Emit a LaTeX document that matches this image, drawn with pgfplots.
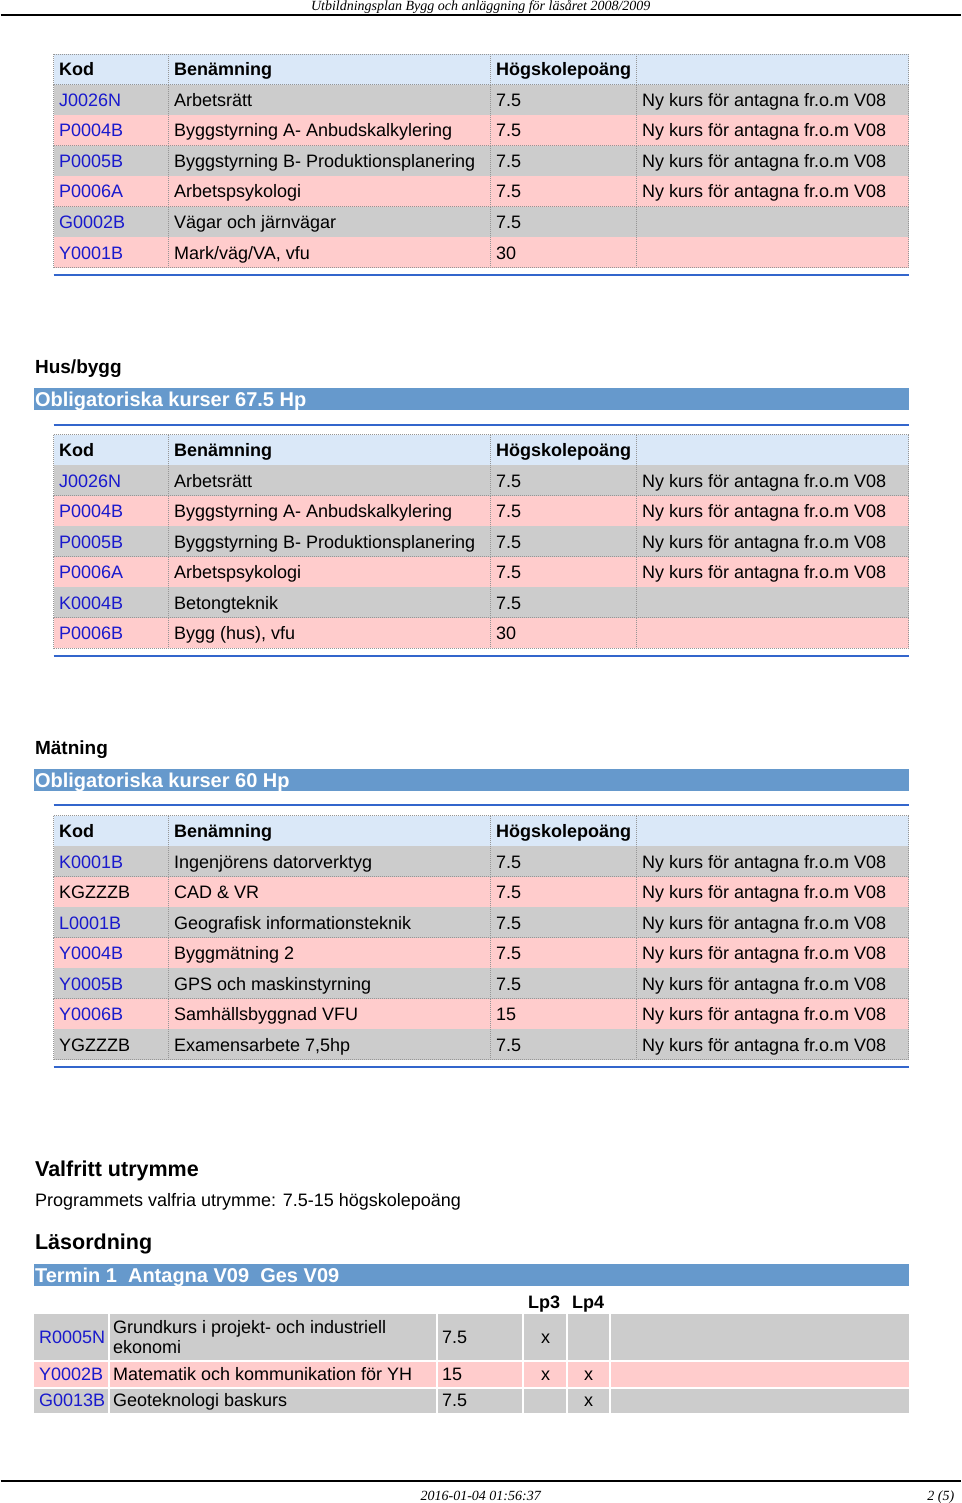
\documentclass[border=0pt]{standalone}
\usepackage{fontspec}
\setmainfont{Liberation Sans}
\newfontfamily\timesfont{Liberation Serif}
\usepackage{pgfplots}
\pgfplotsset{compat=1.18}

\definecolor{rowgray}{RGB}{204,204,204}
\definecolor{rowpink}{RGB}{255,204,204}
\definecolor{headblue}{RGB}{218,232,248}
\definecolor{barblue}{RGB}{102,153,204}
\definecolor{lineblue}{RGB}{51,102,204}
\definecolor{linkblue}{RGB}{25,25,205}
\definecolor{dotgray}{RGB}{150,150,150}

\tikzset{
  txt/.style={anchor=base west, inner sep=0pt, font=\fontsize{9}{10}\selectfont},
  btxt/.style={txt, font=\fontsize{9}{10}\selectfont\bfseries},
  dotl/.style={dotgray, line width=0.35pt, dash pattern=on 0.5pt off 0.5pt},
}

% one course row of the 4-column tables: y-centre, fill, code, name, hp, note
\newcommand\trow[6]{%
  \fill[#2] (axis cs:53,#1-15.25) rectangle (axis cs:908,#1+15.25);
  \draw[dotl] (axis cs:53,#1+15.25) -- (axis cs:908,#1+15.25);
  \draw[dotl] (axis cs:53,#1-15.25) -- (axis cs:53,#1+15.25);
  \draw[dotl] (axis cs:168,#1-15.25) -- (axis cs:168,#1+15.25);
  \draw[dotl] (axis cs:490,#1-15.25) -- (axis cs:490,#1+15.25);
  \draw[dotl] (axis cs:636,#1-15.25) -- (axis cs:636,#1+15.25);
  \draw[dotl] (axis cs:908,#1-15.25) -- (axis cs:908,#1+15.25);
  \node[txt] at (axis cs:58,#1+6.5) {#3};
  \node[txt] at (axis cs:173,#1+6.5) {#4};
  \node[txt] at (axis cs:495,#1+6.5) {#5};
  \node[txt] at (axis cs:641,#1+6.5) {#6};
}
\newcommand\thead[1]{%
  \trow{#1}{headblue}{\bfseries Kod}{\bfseries Benämning}{\bfseries Högskolepoäng}{}%
  \draw[dotl] (axis cs:53,#1-15.25) -- (axis cs:908,#1-15.25);
}
\newcommand\lk[1]{\textcolor{linkblue}{#1}}
\newcommand\note{Ny kurs för antagna fr.o.m V08}
\newcommand\sectionbar[2]{%
  \fill[barblue] (axis cs:33,#1-11) rectangle (axis cs:908,#1+11);
  \node[txt, font=\fontsize{10}{11}\selectfont\bfseries, text=white] at (axis cs:34,#1+7) {#2};
}
\newcommand\blueline[1]{\draw[lineblue, line width=1.3pt] (axis cs:53,#1) -- (axis cs:908,#1);}

\begin{document}
\begin{tikzpicture}
\begin{axis}[
  x=0.5pt, y=0.5pt,
  xmin=0, xmax=960, ymin=0, ymax=1503,
  y dir=reverse,
  hide axis,
  clip=false,
]
\addplot[draw=none, forget plot] coordinates {(0,0) (960,1503)};
\fill[white] (axis cs:0,0) rectangle (axis cs:960,1503);

% page header and footer
\node[anchor=base, inner sep=0pt, font=\fontsize{7}{8}\selectfont\timesfont\itshape] at (axis cs:480,11)
  {Utbildningsplan Bygg och anläggning för läsåret 2008/2009};
\draw[black, line width=0.7pt] (axis cs:0,15) -- (axis cs:960,15);
\draw[black, line width=0.7pt] (axis cs:0,1481) -- (axis cs:960,1481);
\node[anchor=base, inner sep=0pt, font=\fontsize{7}{8}\selectfont\timesfont\itshape] at (axis cs:480,1500)
  {2016-01-04 01:56:37};
\node[anchor=base east, inner sep=0pt, font=\fontsize{7}{8}\selectfont\timesfont\itshape] at (axis cs:954,1500)
  {2 (5)};

% table 1 (continued from previous page)
\thead{69.5}
\trow{100}{rowgray}{\lk{J0026N}}{Arbetsrätt}{7.5}{\note}
\trow{130.5}{rowpink}{\lk{P0004B}}{Byggstyrning A- Anbudskalkylering}{7.5}{\note}
\trow{161}{rowgray}{\lk{P0005B}}{Byggstyrning B- Produktionsplanering}{7.5}{\note}
\trow{191.5}{rowpink}{\lk{P0006A}}{Arbetspsykologi}{7.5}{\note}
\trow{222}{rowgray}{\lk{G0002B}}{Vägar och järnvägar}{7.5}{}
\trow{252.5}{rowpink}{\lk{Y0001B}}{Mark/väg/VA, vfu}{30}{}
\blueline{275}

% Hus/bygg
\node[txt, font=\fontsize{9.5}{11}\selectfont\bfseries] at (axis cs:34,373) {Hus/bygg};
\sectionbar{399}{Obligatoriska kurser 67.5 Hp}
\blueline{425}
\thead{450}
\trow{480.5}{rowgray}{\lk{J0026N}}{Arbetsrätt}{7.5}{\note}
\trow{511}{rowpink}{\lk{P0004B}}{Byggstyrning A- Anbudskalkylering}{7.5}{\note}
\trow{541.5}{rowgray}{\lk{P0005B}}{Byggstyrning B- Produktionsplanering}{7.5}{\note}
\trow{572}{rowpink}{\lk{P0006A}}{Arbetspsykologi}{7.5}{\note}
\trow{602.5}{rowgray}{\lk{K0004B}}{Betongteknik}{7.5}{}
\trow{633}{rowpink}{\lk{P0006B}}{Bygg (hus), vfu}{30}{}
\blueline{656}

% Mätning
\node[txt, font=\fontsize{9.5}{11}\selectfont\bfseries] at (axis cs:34,754) {Mätning};
\sectionbar{780}{Obligatoriska kurser 60 Hp}
\blueline{805}
\thead{831}
\trow{861.5}{rowgray}{\lk{K0001B}}{Ingenjörens datorverktyg}{7.5}{\note}
\trow{892}{rowpink}{KGZZZB}{CAD \& VR}{7.5}{\note}
\trow{922.5}{rowgray}{\lk{L0001B}}{Geografisk informationsteknik}{7.5}{\note}
\trow{953}{rowpink}{\lk{Y0004B}}{Byggmätning 2}{7.5}{\note}
\trow{983.5}{rowgray}{\lk{Y0005B}}{GPS och maskinstyrning}{7.5}{\note}
\trow{1014}{rowpink}{\lk{Y0006B}}{Samhällsbyggnad VFU}{15}{\note}
\trow{1044.5}{rowgray}{YGZZZB}{Examensarbete 7,5hp}{7.5}{\note}
\blueline{1067}

% Valfritt utrymme / Läsordning
\node[txt, font=\fontsize{10.75}{12}\selectfont\bfseries] at (axis cs:34,1176) {Valfritt utrymme};
\node[txt] at (axis cs:34,1206) {Programmets valfria utrymme: 7.5-15 högskolepoäng};
\node[txt, font=\fontsize{10.75}{12}\selectfont\bfseries] at (axis cs:34,1249) {Läsordning};
\sectionbar{1275}{Termin 1\ \ Antagna V09\ \ Ges V09}
\node[btxt] at (axis cs:527,1308.5) {Lp3};
\node[btxt] at (axis cs:571,1308.5) {Lp4};

% table 4 cells
\fill[rowgray] (axis cs:33,1314) rectangle (axis cs:908,1360);
\fill[rowpink] (axis cs:33,1362) rectangle (axis cs:908,1387);
\fill[rowgray] (axis cs:33,1389) rectangle (axis cs:908,1413);
\draw[white, line width=1pt] (axis cs:108,1313) -- (axis cs:108,1414);
\draw[white, line width=1pt] (axis cs:436,1313) -- (axis cs:436,1414);
\draw[white, line width=1pt] (axis cs:522,1313) -- (axis cs:522,1414);
\draw[white, line width=1pt] (axis cs:566,1313) -- (axis cs:566,1414);
\draw[white, line width=1pt] (axis cs:609,1313) -- (axis cs:609,1414);

\node[txt] at (axis cs:38,1343.5) {\lk{R0005N}};
\node[txt] at (axis cs:112,1333.5) {Grundkurs i projekt- och industriell};
\node[txt] at (axis cs:112,1353.5) {ekonomi};
\node[txt] at (axis cs:441,1343.5) {7.5};
\node[txt, anchor=base] at (axis cs:545,1343.5) {x};

\node[txt] at (axis cs:38,1380.5) {\lk{Y0002B}};
\node[txt] at (axis cs:112,1380.5) {Matematik och kommunikation för YH};
\node[txt] at (axis cs:441,1380.5) {15};
\node[txt, anchor=base] at (axis cs:545,1380.5) {x};
\node[txt, anchor=base] at (axis cs:588,1380.5) {x};

\node[txt] at (axis cs:38,1406.5) {\lk{G0013B}};
\node[txt] at (axis cs:112,1406.5) {Geoteknologi baskurs};
\node[txt] at (axis cs:441,1406.5) {7.5};
\node[txt, anchor=base] at (axis cs:588,1406.5) {x};
\end{axis}
\end{tikzpicture}
\end{document}
